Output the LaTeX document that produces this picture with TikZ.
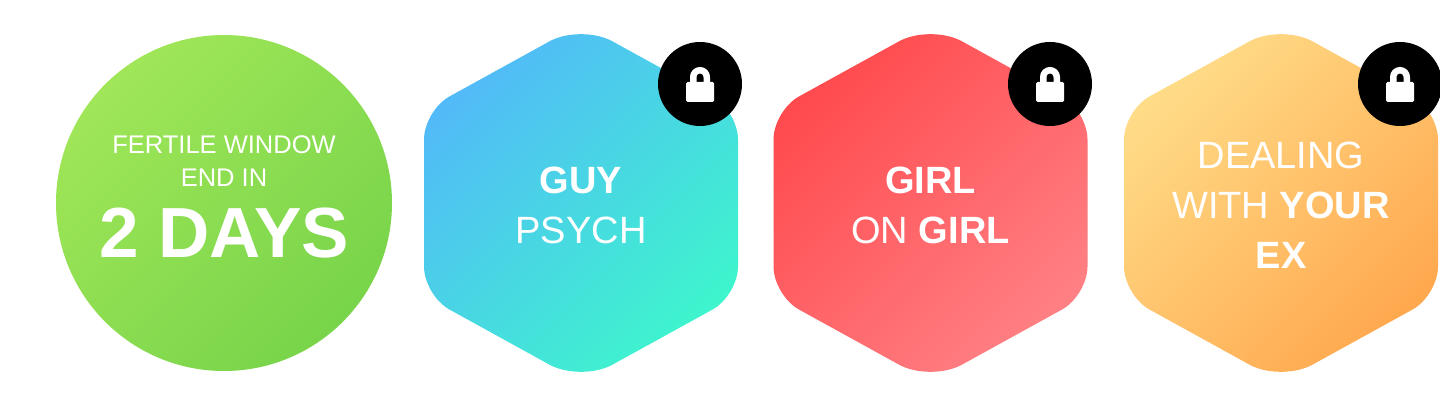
\documentclass[tikz,border=0pt]{standalone}
\usepackage{xcolor}
\usepackage{fontspec}
\setmainfont{Liberation Sans}
\definecolor{greenA}{RGB}{160, 230, 88}
\definecolor{greenB}{RGB}{120, 212, 74}
\definecolor{blueA}{RGB}{82, 186, 248}
\definecolor{blueB}{RGB}{62, 245, 205}
\definecolor{redA}{RGB}{255, 74, 78}
\definecolor{redB}{RGB}{255, 128, 132}
\definecolor{orangeA}{RGB}{255, 220, 136}
\definecolor{orangeB}{RGB}{255, 168, 78}

\begin{document}
\begin{tikzpicture}[
        x=1pt, y=-1pt,
        lockdot/.style={circle, fill=black, minimum size=84pt, inner sep=0pt},
        label/.style={text=white, align=center, inner sep=0pt, font=\fontsize{38}{50}\selectfont},
        smalltext/.style={text=white!90, align=center, inner sep=0pt, font=\fontsize{25.5}{33}\selectfont},
        bigtext/.style={text=white, inner sep=0pt, font=\fontsize{71}{80}\selectfont\bfseries}
    ]
        \useasboundingbox (0,0) rectangle (1440,406);

        % window circle
        \shade[left color=greenA, right color=greenB, shading angle=45] (224,203) circle (168);
        \node (window) [smalltext] at (224,161) {FERTILE WINDOW\\END IN};
        \node (days) [bigtext] at (224,233) {2 DAYS};

        % hexagons and locks
        \foreach \cx/\colA/\colB in {581/blueA/blueB, 930.5/redA/redB, 1281/orangeA/orangeB} {
            \shade[left color=\colA, right color=\colB, shading angle=45]
                [rounded corners=29pt] (\cx-157,203) -- (\cx-157,110.5)
                [rounded corners=36pt] -- (\cx,24)
                [rounded corners=29pt] -- (\cx+157,110.5) -- (\cx+157,295.5)
                [rounded corners=36pt] -- (\cx,382)
                [rounded corners=29pt] -- (\cx-157,295.5) -- cycle;
        }
        \foreach \lx/\name in {700/guy, 1050/girl, 1400/ex} {
            \node (lock\name) [lockdot] at (\lx,84) {};
            \fill[white, rounded corners=1.5pt] (\lx-14,82) rectangle (\lx+14,102);
            \draw[white, line width=6.5pt] (\lx-6.75,84) -- (\lx-6.75,77) arc[start angle=180, end angle=360, radius=6.75] -- (\lx+6.75,84);
        }

        \node (guy) [label] at (581,205) {\textbf{GUY}\\PSYCH};
        \node (girl) [label] at (930.5,205) {\textbf{GIRL}\\ON \textbf{GIRL}};
        \node (ex) [label] at (1281,205) {DEALING\\WITH \textbf{YOUR}\\\textbf{EX}};
    \end{tikzpicture}
\end{document}
